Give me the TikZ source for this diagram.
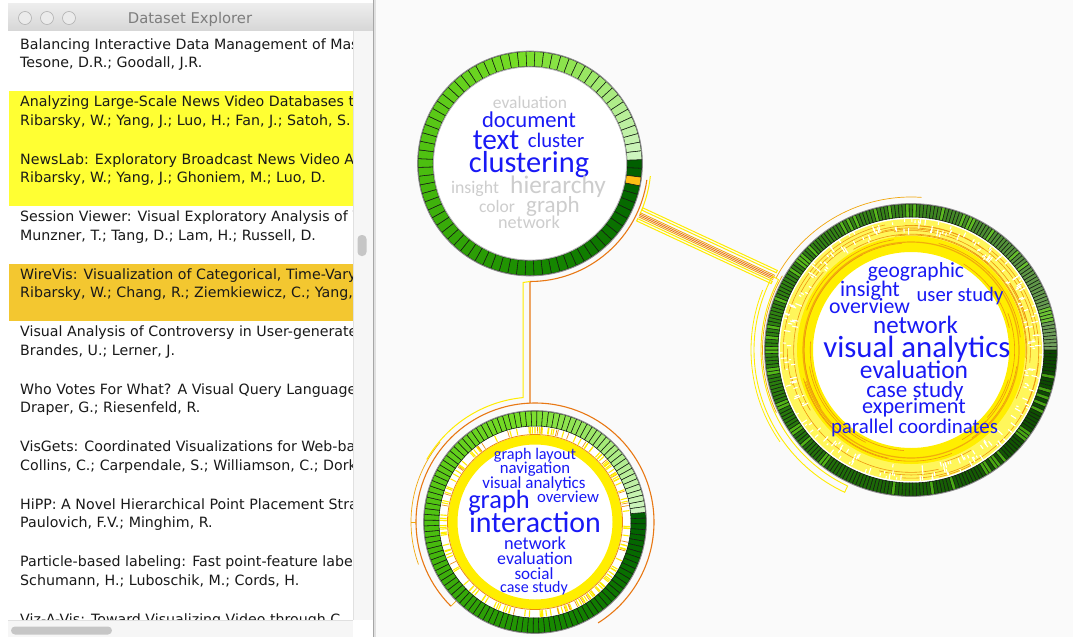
\documentclass[tikz,border=0pt]{standalone}
\usepackage{fontspec}
\setmainfont{DejaVu Sans}
\newfontfamily\cloudfont{Carlito}
\usetikzlibrary{calc}

\definecolor{pagebg}{RGB}{250,250,250}
\definecolor{listtext}{RGB}{25,25,25}
\definecolor{hlyellow}{RGB}{255,255,51}
\definecolor{hlorange}{RGB}{243,199,48}
\definecolor{titlegray}{RGB}{125,125,125}
\definecolor{barTop}{RGB}{238,238,238}
\definecolor{barBot}{RGB}{214,214,214}
\definecolor{trackgray}{RGB}{246,246,246}
\definecolor{thumbgray}{RGB}{198,198,198}
\definecolor{wordblue}{RGB}{25,25,245}
\definecolor{wordgray}{RGB}{205,205,205}
\definecolor{linkyellow}{RGB}{255,236,0}
\definecolor{linkorange}{RGB}{232,120,20}
\definecolor{bandyellow}{RGB}{255,238,0}
\definecolor{paleyellow}{RGB}{255,246,90}
\definecolor{celledge}{RGB}{20,30,18}
\definecolor{limecell}{RGB}{110,220,30}
\definecolor{hotcell}{RGB}{255,190,20}
% green ramps for the keyword rings
\definecolor{gA0}{RGB}{0,95,0}
\definecolor{gA1}{RGB}{25,140,0}
\definecolor{gA2}{RGB}{75,190,15}
\definecolor{gA3}{RGB}{120,222,40}
\definecolor{gA4}{RGB}{205,244,190}
\definecolor{gB0}{RGB}{10,70,0}
\definecolor{gB1}{RGB}{25,100,5}
\definecolor{gB2}{RGB}{45,130,15}
\definecolor{gB3}{RGB}{55,130,25}
\definecolor{gB4}{RGB}{115,160,95}

\newcommand\wsz[1]{\cloudfont\fontsize{#1}{#1}\selectfont}

% #1 cx, #2 cy, #3 inner r, #4 outer r, #5 cells, #6 start angle, #7 ramp, #8 lime chance
\newcommand\cellring[8]{%
 \begin{scope}[shift={(#1,#2)},yscale=-1]
  \pgfmathsetmacro\cellstep{360/#5}
  \pgfmathtruncatemacro\celllast{#5-1}
  \foreach \i in {0,...,\celllast}{
   \pgfmathsetmacro\cella{#6-\i*\cellstep}
   \pgfmathsetmacro\cellb{\cella-\cellstep}
   \pgfmathsetmacro\cellt{\i/\celllast}
   \pgfmathtruncatemacro\cellseg{min(3,floor(\cellt*4))}
   \pgfmathtruncatemacro\cellsegn{\cellseg+1}
   \pgfmathtruncatemacro\cellpc{min(100,max(0,round((\cellt*4-\cellseg)*100)))}
   \colorlet{cellc}{#7\cellsegn!\cellpc!#7\cellseg}
   \pgfmathsetmacro\cellrnd{rnd}
   \ifdim\cellrnd pt<#8pt \colorlet{cellc}{cellc!40!limecell}\fi
   \filldraw[fill=cellc,draw=celledge,line width=0.55pt]
     (\cella:#3) arc[start angle=\cella,end angle=\cellb,radius=#3]
     -- (\cellb:#4) arc[start angle=\cellb,end angle=\cella,radius=#4] -- cycle;
  }
 \end{scope}}

\begin{document}
\begin{tikzpicture}[x=1pt,y=-1pt,
  listline/.style={anchor=base west,inner sep=0pt,text=listtext,font=\fontsize{14.2}{16}\selectfont},
  cw/.style={anchor=base,inner sep=0pt},
  blueword/.style={cw,text=wordblue},
  grayword/.style={cw,text=wordgray},
  ylink/.style={draw=linkyellow,line width=1pt},
  olink/.style={draw=linkorange,line width=1.1pt},
  olight/.style={draw=linkorange!60!linkyellow,line width=0.7pt},
  ringshade/.style={draw=black!45,line width=0.9pt},
 ]
\pgfmathsetseed{4242}
\useasboundingbox (0,0) rectangle (1073,637);
\fill[white] (0,0) rectangle (1073,637);
\fill[pagebg] (374,0) rectangle (1073,637);

% ---------------- list window ----------------
\shade[top color=barTop,bottom color=barBot] (8,3) rectangle (373,31);
\draw[black!25] (8,31) -- (373,31);
\foreach \k/\xx in {1/25,2/47,3/69}
  \draw[black!30,fill=black!8,line width=0.6pt] (\xx,18) circle[radius=6.5] coordinate (light\k);
\node[text=titlegray,font=\fontsize{14.8}{16}\selectfont,anchor=base,inner sep=0pt] (wintitle) at (190,23.5) {Dataset Explorer};

\fill[white] (8,31) rectangle (353,620);
\fill[hlyellow] (9,91) rectangle (353,206);
\fill[hlorange] (9,263.5) rectangle (353,321);

\begin{scope}
\clip (9,31) rectangle (353,620);
\node[listline] (t1) at (20,49) {Balancing Interactive Data Management of Mass};
\node[listline] (a1) at (20,67.5) {Tesone, D.R.; Goodall, J.R.};
\node[listline] (t2) at (20,106.5) {Analyzing Large-Scale News Video Databases t};
\node[listline] (a2) at (20,125) {Ribarsky, W.; Yang, J.; Luo, H.; Fan, J.; Satoh, S.};
\node[listline] (t3) at (20,164) {NewsLab: Exploratory Broadcast News Video A};
\node[listline] (a3) at (20,182.5) {Ribarsky, W.; Yang, J.; Ghoniem, M.; Luo, D.};
\node[listline] (t4) at (20,221.5) {Session Viewer: Visual Exploratory Analysis of W};
\node[listline] (a4) at (20,240) {Munzner, T.; Tang, D.; Lam, H.; Russell, D.};
\node[listline] (t5) at (20,279) {WireVis: Visualization of Categorical, Time-Vary};
\node[listline] (a5) at (20,297.5) {Ribarsky, W.; Chang, R.; Ziemkiewicz, C.; Yang,};
\node[listline] (t6) at (20,336.5) {Visual Analysis of Controversy in User-generate};
\node[listline] (a6) at (20,355) {Brandes, U.; Lerner, J.};
\node[listline] (t7) at (20,394) {Who Votes For What? A Visual Query Language f};
\node[listline] (a7) at (20,412.5) {Draper, G.; Riesenfeld, R.};
\node[listline] (t8) at (20,451.5) {VisGets: Coordinated Visualizations for Web-ba};
\node[listline] (a8) at (20,470) {Collins, C.; Carpendale, S.; Williamson, C.; Dork};
\node[listline] (t9) at (20,509) {HiPP: A Novel Hierarchical Point Placement Stra};
\node[listline] (a9) at (20,527.5) {Paulovich, F.V.; Minghim, R.};
\node[listline] (t10) at (20,566.5) {Particle-based labeling: Fast point-feature labe};
\node[listline] (a10) at (20,585) {Schumann, H.; Luboschik, M.; Cords, H.};
\node[listline] (t11) at (20,624) {Viz-A-Vis: Toward Visualizing Video through C};
\end{scope}

% scroll bars
\fill[trackgray] (353,31) rectangle (373,620);
\draw[black!12] (353.5,31) -- (353.5,620);
\fill[thumbgray,rounded corners=4pt] (357.5,235) rectangle (366.5,256);
\fill[trackgray] (8,620) rectangle (353,637);
\draw[black!12] (8,620.5) -- (353,620.5);
\fill[thumbgray,rounded corners=4pt] (11,626.5) rectangle (112,634.5);
\fill[white] (353,620) rectangle (373,637);
\draw[black!35,line width=0.8pt] (373.5,0) -- (373.5,637);
\draw[black!12,line width=1.2pt] (375,0) -- (375,637);

% ---------------- keyword clusters ----------------
\coordinate (c1) at (530,163.5);
\coordinate (c2) at (911,350);
\coordinate (c3) at (535,522);

% links between the clusters
\draw[olink] ($(c1)+(8:118)$) arc[start angle=8,end angle=90,radius=118] coordinate (c1bot)
  -- ($(c3)+(267.6:119)$) coordinate (c3top) arc[start angle=267.6,end angle=418,radius=119];
\draw[olink] (c3top) arc[start angle=267.6,end angle=135,radius=119];
\draw[olight] ($(c3)+(220:124)$) arc[start angle=220,end angle=160,radius=124];
\draw[olight] ($(c3)+(135:119)$) -- ($(c3)+(135:111)$);
\draw[olight] ($(c3)+(180:119)$) -- ($(c3)+(180:124)$);
\draw[ylink] (c1bot) -- ++(-7,1) coordinate (ybend) -- ($(c3)+(264.5:125)$) coordinate (c3ytop)
  arc[start angle=264.5,end angle=210,radius=125];

\draw[ylink] ($(c1)+(6:121)$) arc[start angle=6,end angle=25,radius=121] coordinate (bandA);
\coordinate (bandB) at ($(c2)+(-152:155)$);
\foreach \o/\c in {-2/linkorange!60!linkyellow,-0.5/linkorange,1/linkorange,2.5/linkorange!60!linkyellow}
  \draw[draw=\c,line width=0.8pt] ($(bandA)+(-0.4275*\o,0.904*\o)$) -- ($(bandB)+(-0.4275*\o,0.904*\o)$);
\foreach \oa/\ob in {-7.5/-5,4.5/7}
  \draw[ylink,line width=1pt] ($(bandA)+(-0.4275*\oa,0.904*\oa)$) -- ($(bandB)+(-0.4275*\oa,0.904*\oa)$)
    -- ($(bandB)+(-0.4275*\ob,0.904*\ob)$) -- ($(bandA)+(-0.4275*\ob,0.904*\ob)$) -- cycle;

\draw[olight] ($(c2)+(-152:153)$) arc[start angle=-152,end angle=-86,radius=153];
\draw[olight] ($(c2)+(-150:148.5)$) arc[start angle=-150,end angle=-205,radius=148.5];
\draw[ylink,line width=0.9pt] ($(c2)+(-152:150)$) arc[start angle=-152,end angle=-245,radius=150]
  -- ($(c2)+(-245:157)$) arc[start angle=-245,end angle=-152,radius=157] -- cycle;
\draw[ylink,line width=0.8pt] ($(c2)+(-158:160)$) arc[start angle=-158,end angle=-215,radius=160];

% cluster 1
\fill[white] (c1) circle[radius=97];
\cellring{530}{163.5}{97}{112}{80}{2}{gA}{0}
\begin{scope}[shift={(c1)},yscale=-1]
 \filldraw[fill=hotcell,draw=celledge,line width=0.55pt] (-7:97) arc[start angle=-7,end angle=-11.5,radius=97]
   -- (-11.5:112) arc[start angle=-11.5,end angle=-7,radius=112] -- cycle;
\end{scope}
\draw[ringshade] (c1) circle[radius=112.4];
\draw[ringshade,draw=black!30] (c1) circle[radius=96.6];

% cluster 2
\fill[white] (c2) circle[radius=133];
\begin{scope}[shift={(c2)}]
 \fill[paleyellow,even odd rule] (0,0) circle[radius=131] (0,0) circle[radius=113];
 \fill[bandyellow,even odd rule] (0,0) circle[radius=114] (0,0) circle[radius=98];
 \foreach \k in {1,...,34}{
   \pgfmathsetmacro\ra{100+rnd*30}
   \pgfmathsetmacro\sa{rnd*360}
   \pgfmathsetmacro\da{15+rnd*90}
   \draw[linkorange!75!bandyellow,line width=0.6pt] (\sa:\ra) arc[start angle=\sa,delta angle=\da,radius=\ra];
 }
 \foreach \k in {1,...,230}{
   \pgfmathsetmacro\ra{115+rnd*14}
   \pgfmathsetmacro\sa{rnd*360}
   \pgfmathsetmacro\ln{2+rnd*5}
   \draw[white,line width=1.1pt] (\sa:\ra) -- (\sa:\ra+\ln);
 }
 \draw[linkorange!55!bandyellow,line width=1.2pt] (0,0) circle[radius=108];
\end{scope}
\cellring{911}{350}{133}{146}{250}{0}{gB}{0.18}
\draw[ringshade] (c2) circle[radius=146.4];

% cluster 3
\fill[white] (c3) circle[radius=96];
\begin{scope}[shift={(c3)}]
 \foreach \k in {1,...,170}{
   \pgfmathsetmacro\sa{rnd*360}
   \pgfmathsetmacro\pk{rnd}
   \ifdim\pk pt<0.22pt
     \draw[linkorange!80!bandyellow,line width=0.7pt] (\sa:88.5) -- (\sa:95);
   \else
     \draw[bandyellow,line width=1.1pt] (\sa:88.5) -- (\sa:95);
   \fi
 }
 \fill[bandyellow,even odd rule] (0,0) circle[radius=87] (0,0) circle[radius=77.5];
 \draw[linkorange!85!bandyellow,line width=0.8pt] (0,0) circle[radius=87.5];
\end{scope}
\cellring{535}{522}{96}{111}{120}{5}{gA}{0}
\draw[ringshade] (c3) circle[radius=111.4];

% keywords, cluster 1
\node[grayword,font=\wsz{17.5}] (k1a) at (530,108) {evaluation};
\node[blueword,font=\wsz{22.6}] (k1b) at (529,127) {document};
\node[blueword,font=\wsz{29.4}] (k1c) at (496,149) {text};
\node[blueword,font=\wsz{20.7}] (k1d) at (556,147) {cluster};
\node[blueword,font=\wsz{30.4}] (k1e) at (529,172) {clustering};
\node[grayword,font=\wsz{17.8}] (k1f) at (475,193) {insight};
\node[grayword,font=\wsz{25.3}] (k1g) at (558,193) {hierarchy};
\node[grayword,font=\wsz{17.5}] (k1h) at (497,212) {color};
\node[grayword,font=\wsz{23}] (k1i) at (553,212) {graph};
\node[grayword,font=\wsz{18.2}] (k1j) at (529,228) {network};

% keywords, cluster 2
\node[blueword,font=\wsz{21.5}] (k2a) at (916,277) {geographic};
\node[blueword,font=\wsz{22.2}] (k2b) at (870,296) {insight};
\node[blueword,font=\wsz{20.6}] (k2c) at (960,301) {user study};
\node[blueword,font=\wsz{21.8}] (k2d) at (869.5,313) {overview};
\node[blueword,font=\wsz{25}] (k2e) at (915.5,333) {network};
\node[blueword,font=\wsz{30.8}] (k2f) at (917,357) {visual analytics};
\node[blueword,font=\wsz{25.5}] (k2g) at (914,378) {evaluation};
\node[blueword,font=\wsz{23}] (k2h) at (915,397) {case study};
\node[blueword,font=\wsz{22.2}] (k2i) at (914,413) {experiment};
\node[blueword,font=\wsz{20.9}] (k2j) at (914.5,433) {parallel coordinates};

% keywords, cluster 3
\node[blueword,font=\wsz{16.2}] (k3a) at (535,459) {graph layout};
\node[blueword,font=\wsz{16.7}] (k3b) at (535,473) {navigation};
\node[blueword,font=\wsz{17}] (k3c) at (534,488) {visual analytics};
\node[blueword,font=\wsz{26.4}] (k3d) at (499,508) {graph};
\node[blueword,font=\wsz{16.7}] (k3e) at (568,502) {overview};
\node[blueword,font=\wsz{29.9}] (k3f) at (535,532) {interaction};
\node[blueword,font=\wsz{18.3}] (k3g) at (535,549) {network};
\node[blueword,font=\wsz{17.8}] (k3h) at (535,564) {evaluation};
\node[blueword,font=\wsz{17.1}] (k3i) at (534,579) {social};
\node[blueword,font=\wsz{16}] (k3j) at (534,592) {case study};
\end{tikzpicture}
\end{document}
